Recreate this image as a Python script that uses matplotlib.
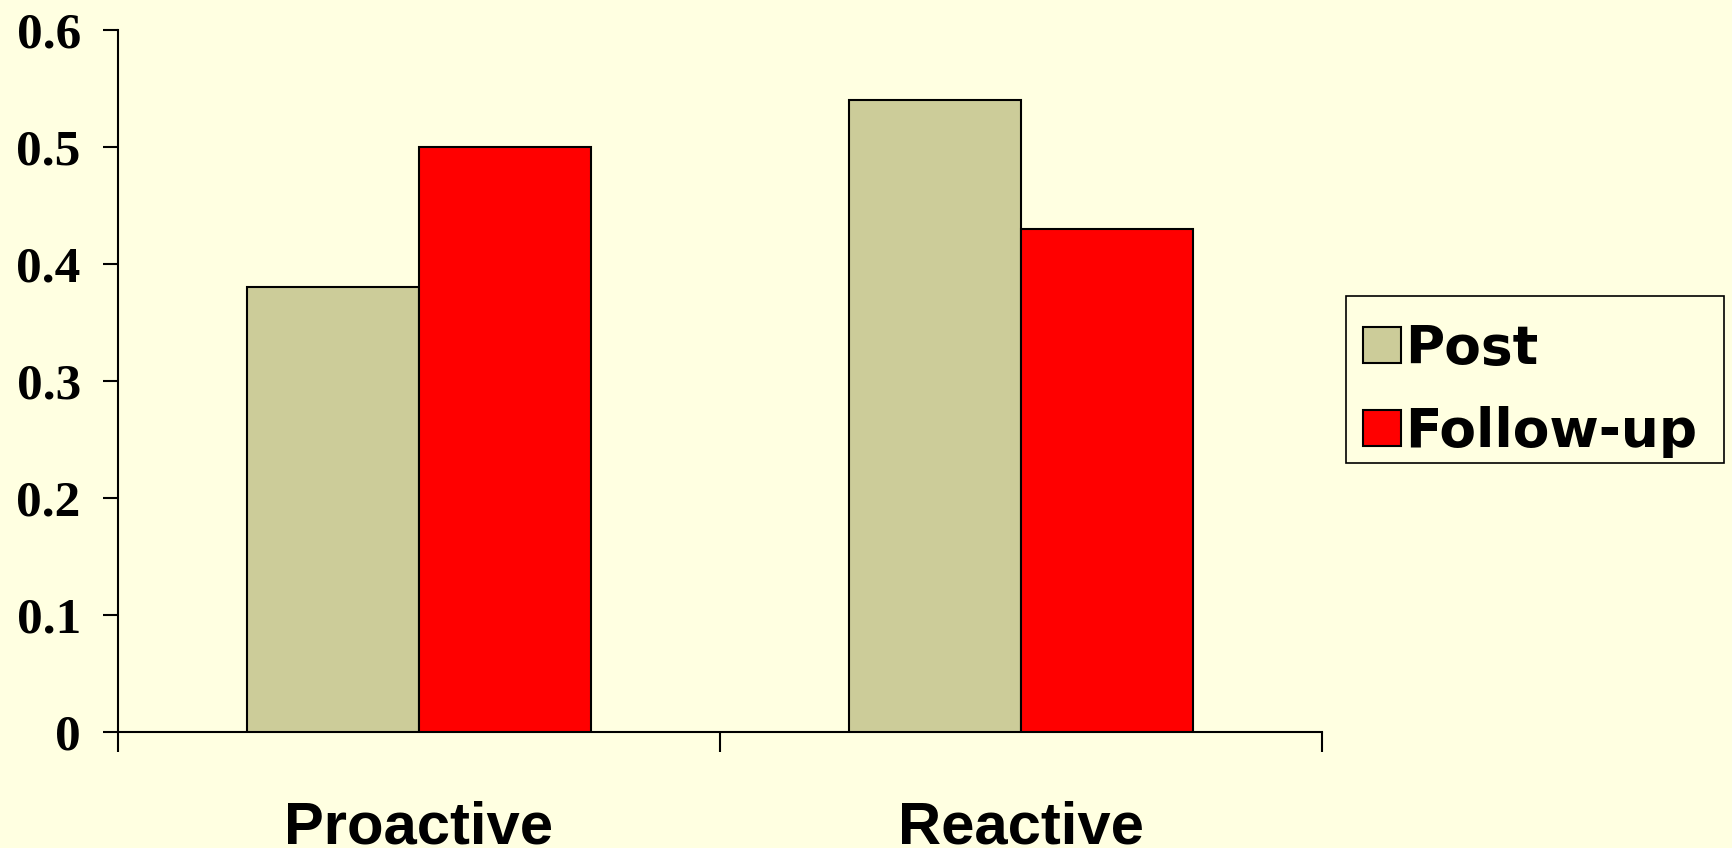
import matplotlib
matplotlib.use("Agg")
import matplotlib.pyplot as plt
from matplotlib.patches import Rectangle
from matplotlib.transforms import blended_transform_factory
import numpy as np

categories = ["Proactive", "Reactive"]
post = [0.38, 0.54]
follow_up = [0.50, 0.43]
series_names = ["Post", "Follow-up"]
yticks = [0, 0.1, 0.2, 0.3, 0.4, 0.5, 0.6]
ytick_labels = ["0", "0.1", "0.2", "0.3", "0.4", "0.5", "0.6"]

bg = "#FFFFE1"
c_post = "#CCCC99"
c_follow = "#FF0000"

W, H = 1733, 848
fig = plt.figure(figsize=(W / 100, H / 100), dpi=100, facecolor=bg)
ax = fig.add_axes([118 / W, 1 - 731.7 / H, (1322 - 118) / W, (731.7 - 30) / H])
ax.set_facecolor(bg)

x = np.arange(len(categories))
w = 1 / 3.5
ax.bar(x - w / 2, post, w, color=c_post, edgecolor="black", linewidth=1.5, label=series_names[0], zorder=3)
ax.bar(x + w / 2, follow_up, w, color=c_follow, edgecolor="black", linewidth=1.5, label=series_names[1], zorder=3)

ax.set_xlim(-0.5, len(categories) - 0.5)
ax.set_ylim(0, 0.6)
for s in ["top", "right"]:
    ax.spines[s].set_visible(False)
for s in ["left", "bottom"]:
    ax.spines[s].set_linewidth(1.5)

ax.set_yticks(yticks)
ax.set_yticklabels(ytick_labels, fontfamily="Liberation Serif", fontweight="bold", fontsize=37)
ax.tick_params(axis="y", direction="out", length=10.8, width=1.5, pad=16)

ax.set_xticks(np.arange(-0.5, len(categories)), minor=False)
ax.set_xticklabels([])
ax.tick_params(axis="x", direction="out", length=14.4, width=1.5)

tr = blended_transform_factory(ax.transData, fig.transFigure)
for xi, cat in zip(x, categories):
    ax.text(xi, 4 / H, cat, transform=tr, ha="center", va="baseline",
            fontfamily="Liberation Sans", fontweight="bold", fontsize=43)

leg = ax.legend(loc="upper left", bbox_to_anchor=(1363 / W, 1 - 323 / H),
                bbox_transform=fig.transFigure, frameon=False,
                prop={"family": "DejaVu Sans", "weight": "bold", "size": 38.5},
                handlelength=0.71, handleheight=0.67, handletextpad=0.08,
                labelspacing=0.58, borderpad=0, borderaxespad=0)

fig.add_artist(Rectangle((1346 / W, 1 - 463 / H), (1724 - 1346) / W, (463 - 296) / H,
                         transform=fig.transFigure, fill=False, edgecolor="black",
                         linewidth=1.2))

fig.savefig("out.png", dpi=100, facecolor=bg)
